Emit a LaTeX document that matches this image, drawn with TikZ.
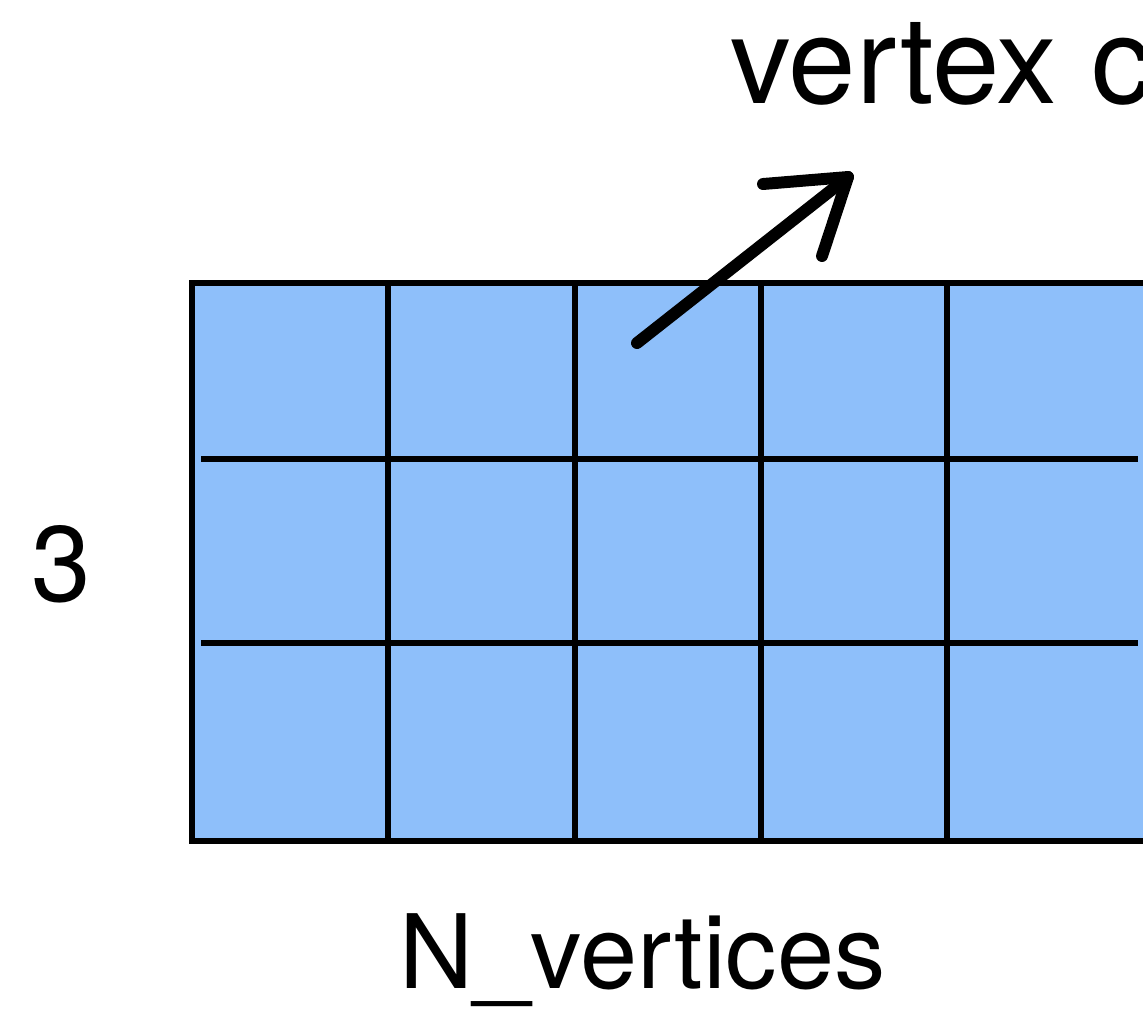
\documentclass[tikz,border=0pt]{standalone}
\usepackage{fontspec}
\setmainfont{TeX Gyre Heros}
\usepackage{xcolor}
\definecolor{cellblue}{rgb}{0.557,0.749,0.980}

\begin{document}
\begin{tikzpicture}[x=0.01cm,y=-0.01cm]
  \useasboundingbox (0,0) rectangle (1143,1008);
  \tikzset{
    gridline/.style={line width=1.45pt,black},
    sketch/.style={line width=3.4pt,black,line cap=round,line join=round},
    label/.style={inner sep=0pt,anchor=base west}
  }
  \def\top{283}
  \def\bot{841}

  \fill[cellblue] (192,\top) rectangle (1180,\bot);
  \draw[gridline] (1180,\top) -- (192,\top) -- (192,\bot) -- (1180,\bot);
  \foreach \xc in {388,575,761,947}{
    \draw[gridline] (\xc,\top) -- (\xc,\bot);
  }
  \foreach \yc in {459,643}{
    \draw[gridline] (201,\yc) -- (1138,\yc);
  }

  \node[label,font=\fontsize{34.5}{40}\selectfont] (title) at (730,103) {vertex c};
  \node[label,font=\fontsize{30.5}{36}\selectfont] (rowcount) at (31,601) {3};
  \node[label,font=\fontsize{29.2}{34}\selectfont] (colcount) at (399,988) {N\_vertices};

  \coordinate (tail) at (637,343);
  \coordinate (tip) at (848,177);
  \coordinate (barbL) at (763,184);
  \coordinate (barbR) at (822,256);
  \draw[sketch] (tail) -- (tip);
  \draw[sketch] (barbL) -- (tip) -- (barbR);
\end{tikzpicture}
\end{document}
